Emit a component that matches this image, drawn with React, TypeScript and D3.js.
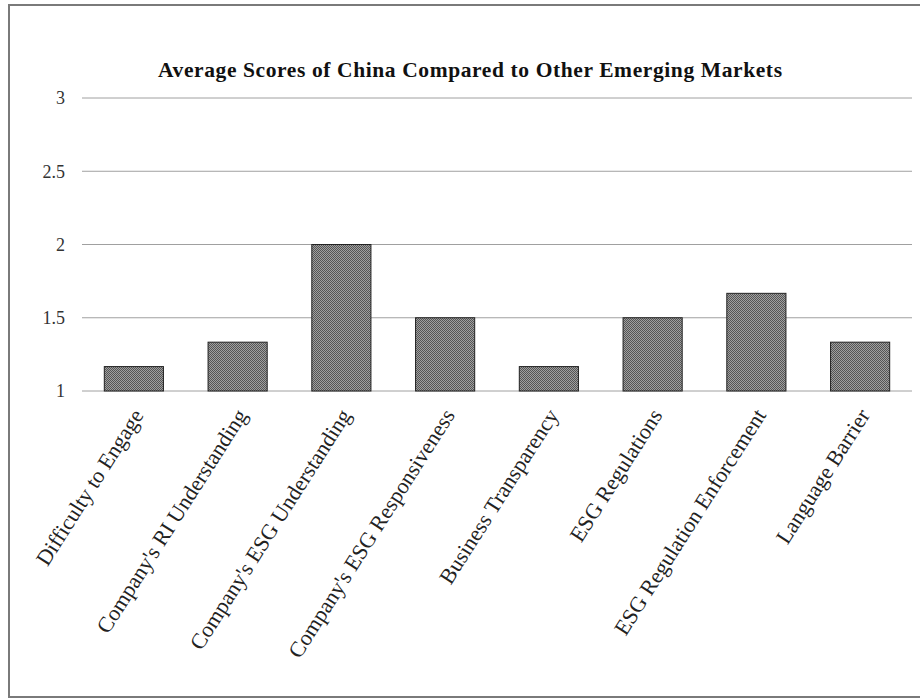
import React from "react";
import * as d3 from "d3";

const categories = [
  "Difficulty to Engage",
  "Company's RI Understanding",
  "Company's ESG Understanding",
  "Company's ESG Responsiveness",
  "Business Transparency",
  "ESG Regulations",
  "ESG Regulation Enforcement",
  "Language Barrier",
];
const values = [1.1667, 1.3333, 2.0, 1.5, 1.1667, 1.5, 1.6667, 1.3333];
const yTicks = [1, 1.5, 2, 2.5, 3];
const title = "Average Scores of China Compared to Other Emerging Markets";

const W = 920;
const H = 699;
const left = 82;
const right = 912;
const top = 98;
const bottom = 391;

export default function App() {
  const x = d3.scaleBand<string>().domain(categories).range([left, right]).paddingInner(0.43).paddingOuter(0.215);
  const y = d3.scaleLinear().domain([1, 3]).range([bottom, top]);
  const serif = "'Liberation Serif', 'DejaVu Serif', serif";
  return (
    <svg width={W} height={H} style={{ position: "absolute", left: 0, top: 0 }}>
      <defs>
        <pattern id="chk" width={2} height={2} patternUnits="userSpaceOnUse">
          <rect width={2} height={2} fill="#a0a0a0" />
          <rect width={1} height={1} fill="#555" />
          <rect x={1} y={1} width={1} height={1} fill="#555" />
        </pattern>
      </defs>
      <rect x={0} y={0} width={W} height={H} fill="#fff" />
      <rect x={9} y={5} width={W + 10} height={692} fill="none" stroke="#7a7a7a" strokeWidth={2} />
      <text x={158} y={77} textLength={624} lengthAdjust="spacing" fontFamily={serif} fontWeight="bold" fontSize={21.5} fill="#111">
        {title}
      </text>
      {yTicks.map((t) => (
        <g key={t}>
          <line x1={left} x2={right} y1={y(t)} y2={y(t)} stroke="#a0a0a0" strokeWidth={1} />
          <text x={65} y={y(t)} dy="0.35em" textAnchor="end" fontFamily={serif} fontSize={18} fill="#333">
            {t}
          </text>
        </g>
      ))}
      {categories.map((c, i) => (
        <rect
          key={c}
          x={x(c)}
          y={y(values[i])}
          width={x.bandwidth()}
          height={bottom - y(values[i])}
          fill="url(#chk)"
          stroke="#222"
          strokeWidth={1}
        />
      ))}
      {categories.map((c) => {
        const cx = (x(c) as number) + x.bandwidth() / 2 + 4;
        const cy = bottom + 20;
        return (
          <text
            key={"l" + c}
            transform={`translate(${cx},${cy}) rotate(-57.5)`}
            textAnchor="end"
            dy="0.35em"
            fontFamily={serif}
            fontSize={22}
            fill="#222"
          >
            {c}
          </text>
        );
      })}
    </svg>
  );
}
